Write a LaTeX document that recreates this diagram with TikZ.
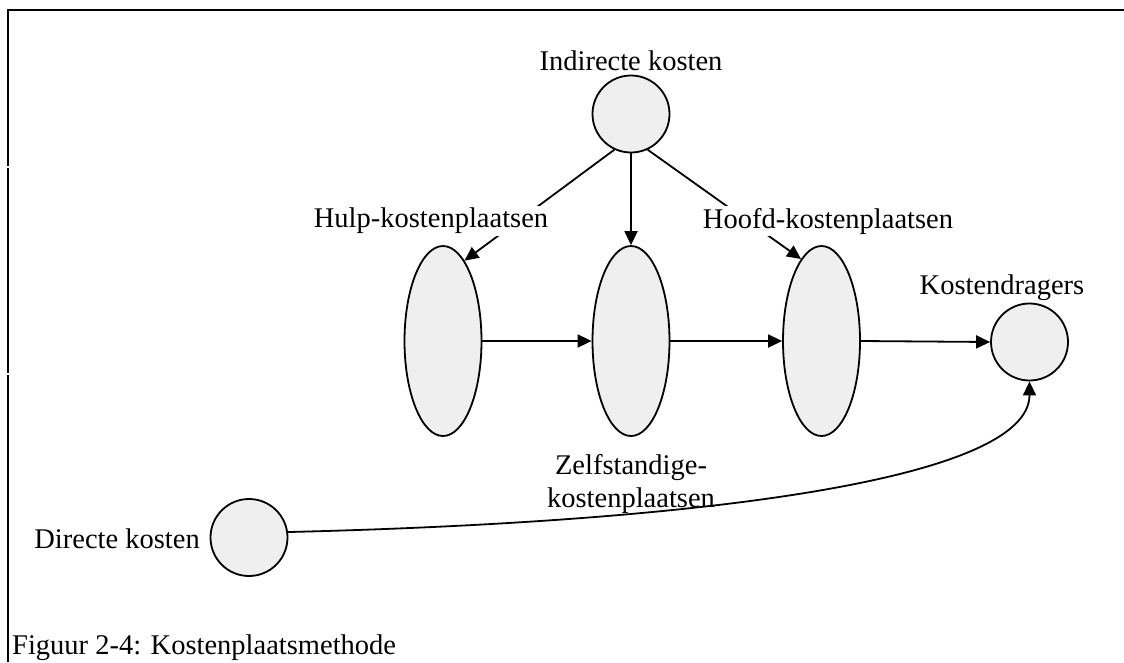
\documentclass[tikz,border=0pt]{standalone}
\usepackage{fontspec}
\setmainfont{Liberation Serif}
\usetikzlibrary{arrows.meta,shapes.geometric}
\definecolor{nodefill}{HTML}{EFEFEF}
\tikzset{
  lbl/.style={font=\fontsize{28.5}{33}\selectfont, inner sep=2pt},
  masklbl/.style={lbl, fill=white},
  roundnode/.style={circle, draw=black, fill=nodefill, line width=1.8pt, minimum size=77pt, inner sep=0pt},
  kpnode/.style={ellipse, draw=black, fill=nodefill, line width=1.8pt, minimum width=77pt, minimum height=190pt, inner sep=0pt},
  conn/.style={line width=1.8pt, -{Triangle[length=14pt,width=13pt]}},
  frameline/.style={line width=2.8pt}
}
\begin{document}
\begin{tikzpicture}[x=1pt,y=-1pt]
\useasboundingbox (0,0) rectangle (1124,662);

% frame
\coordinate (f0) at (8,662);
\coordinate (f1) at (8,374.5);
\coordinate (f2) at (8,372.5);
\coordinate (f3) at (8,168);
\coordinate (f4) at (8,166);
\coordinate (f5) at (8,10);
\coordinate (f6) at (1124,10);
\draw[frameline] (f0) -- (f1);
\draw[frameline] (f2) -- (f3);
\draw[frameline, line join=miter] (f4) -- (f5) -- (f6);

% nodes
\node[roundnode] (ind) at (631,114) {};
\node[kpnode] (hulp) at (443,341) {};
\node[kpnode] (zelf) at (631,341) {};
\node[kpnode] (hoofd) at (821.5,341) {};
\node[roundnode] (kd) at (1029.5,342) {};
\node[roundnode] (dk) at (249,537.5) {};

% connectors
\draw[conn] (ind.245) -- (hulp.75);
\draw[conn] (ind.south) -- (zelf.north);
\draw[conn] (ind.295) -- (hoofd.104);
\draw[conn] (hulp.east) -- (zelf.west);
\draw[conn] (zelf.east) -- (hoofd.west);
\draw[conn] (hoofd.east) -- (kd.west);
\draw[conn] (dk.8) .. controls (700,522) and (1029.5,480) .. (kd.south);

% labels
\node[lbl] (indl) at (631,61) {Indirecte kosten};
\node[masklbl] (hulpl) at (431,221) {Hulp-kostenplaatsen};
\node[masklbl] (hoofdl) at (828,221) {Hoofd-kostenplaatsen};
\node[lbl] (kdl) at (1002,288) {Kostendragers};
\node[lbl, align=center] (zelfl) at (631,484) {Zelfstandige-\\kostenplaatsen};
\node[lbl, anchor=east] (dkl) at (202,539) {Directe kosten};
\node[lbl, anchor=base west] (cap) at (10,654) {Figuur 2-4: Kostenplaatsmethode};
\end{tikzpicture}
\end{document}
